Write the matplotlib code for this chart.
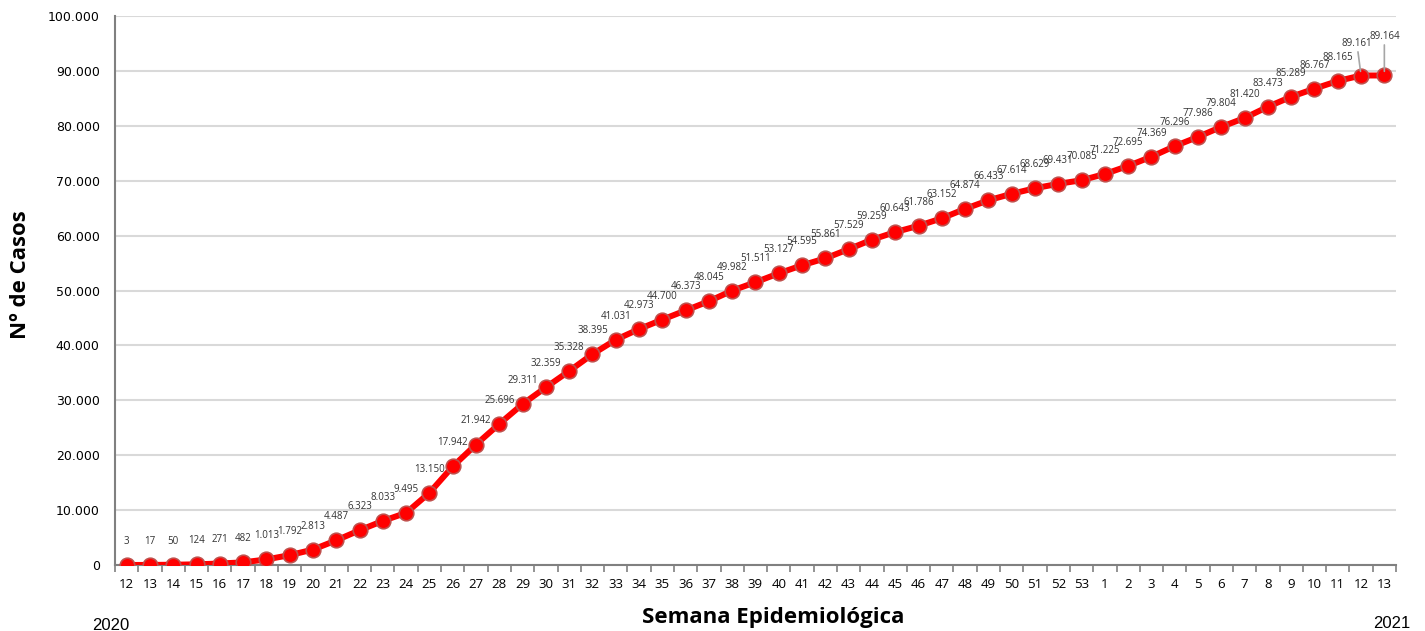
import matplotlib
matplotlib.use("Agg")
import matplotlib.pyplot as plt
from matplotlib.ticker import FixedLocator, FuncFormatter
import numpy as np

weeks = ["12", "13", "14", "15", "16", "17", "18", "19", "20", "21", "22", "23", "24", "25",
         "26", "27", "28", "29", "30", "31", "32", "33", "34", "35", "36", "37", "38", "39",
         "40", "41", "42", "43", "44", "45", "46", "47", "48", "49", "50", "51", "52", "53",
         "1", "2", "3", "4", "5", "6", "7", "8", "9", "10", "11", "12", "13"]
cases = [3, 17, 50, 124, 271, 482, 1013, 1792, 2813, 4487, 6323, 8033, 9495, 13150,
         17942, 21942, 25696, 29311, 32359, 35328, 38395, 41031, 42973, 44700, 46373, 48045, 49982, 51511,
         53127, 54595, 55861, 57529, 59259, 60643, 61786, 63152, 64874, 66433, 67614, 68629, 69431, 70085,
         71225, 72695, 74369, 76296, 77986, 79804, 81420, 83473, 85289, 86767, 88165, 89161, 89164]
y_ticks = [0, 10000, 20000, 30000, 40000, 50000, 60000, 70000, 80000, 90000, 100000]


def fmt_thousands(v):
    return f"{int(round(v)):,}".replace(",", ".")


fig = plt.figure(figsize=(14.25, 6.31), dpi=100)
ax = fig.add_axes([115 / 1425, 1 - 565 / 631, (1396 - 115) / 1425, (565 - 16) / 631])

x = np.arange(len(weeks))
ax.plot(x, cases, color="#ff0000", lw=4.3, marker="o", markersize=10.5,
        markerfacecolor="#ff0000", markeredgecolor="#c0504d", markeredgewidth=1.2,
        zorder=3, solid_joinstyle="round")

ax.set_xlim(-0.5, len(weeks) - 0.5)
ax.set_ylim(0, 100000)
ax.yaxis.set_major_locator(FixedLocator(y_ticks))
ax.yaxis.set_major_formatter(FuncFormatter(lambda v, p: fmt_thousands(v)))
ax.grid(axis="y", color="#d9d9d9", lw=1.5, zorder=0)
ax.set_axisbelow(True)

ax.set_xticks(x)
ax.set_xticklabels(weeks, fontfamily="Open Sans", fontsize=9.5, color="black")
ax.set_xticks(np.arange(-0.5, len(weeks), 1.0), minor=True)
ax.tick_params(axis="x", which="major", length=0, pad=9)
ax.tick_params(axis="x", which="minor", length=5, width=1.2, color="#808080", direction="out")
ax.tick_params(axis="y", length=0, pad=11, labelsize=9)
for lbl in ax.get_yticklabels():
    lbl.set_family("DejaVu Sans")
    lbl.set_color("black")

for s in ["top", "right"]:
    ax.spines[s].set_visible(False)
ax.spines["left"].set_color("#808080")
ax.spines["left"].set_linewidth(1.5)
ax.spines["bottom"].set_color("#808080")
ax.spines["bottom"].set_linewidth(1.5)

n = len(cases)
lab_color = "#333333"
for i, v in enumerate(cases):
    if i == n - 2:
        ax.annotate(fmt_thousands(v), xy=(i, v), xytext=(-3, 19), textcoords="offset points",
                    ha="center", va="bottom", fontsize=7, family="Open Sans", color=lab_color,
                    arrowprops=dict(arrowstyle="-", color="#a6a6a6", lw=1.2, shrinkA=0, shrinkB=3))
    elif i == n - 1:
        ax.annotate(fmt_thousands(v), xy=(i, v), xytext=(0, 24), textcoords="offset points",
                    ha="center", va="bottom", fontsize=7, family="Open Sans", color=lab_color,
                    arrowprops=dict(arrowstyle="-", color="#a6a6a6", lw=1.2, shrinkA=0, shrinkB=3))
    else:
        ax.annotate(fmt_thousands(v), xy=(i, v), xytext=(0, 13), textcoords="offset points",
                    ha="center", va="bottom", fontsize=7, family="Open Sans", color=lab_color)

fig.text(21 / 1425, 1 - 275 / 631, "Nº de Casos", rotation=90, ha="center", va="center",
         fontsize=16, fontweight="bold", family="Open Sans", color="black")
fig.text(773 / 1425, 1 - 617 / 631, "Semana Epidemiológica", ha="center", va="center",
         fontsize=16, fontweight="bold", family="Open Sans", color="black")
fig.text(111 / 1425, 1 - 625 / 631, "2020", ha="center", va="center",
         fontsize=12, family="Liberation Sans", color="black")
fig.text(1392 / 1425, 1 - 623 / 631, "2021", ha="center", va="center",
         fontsize=12, family="Liberation Sans", color="black")

fig.savefig("out.png", dpi=100, facecolor="white")
